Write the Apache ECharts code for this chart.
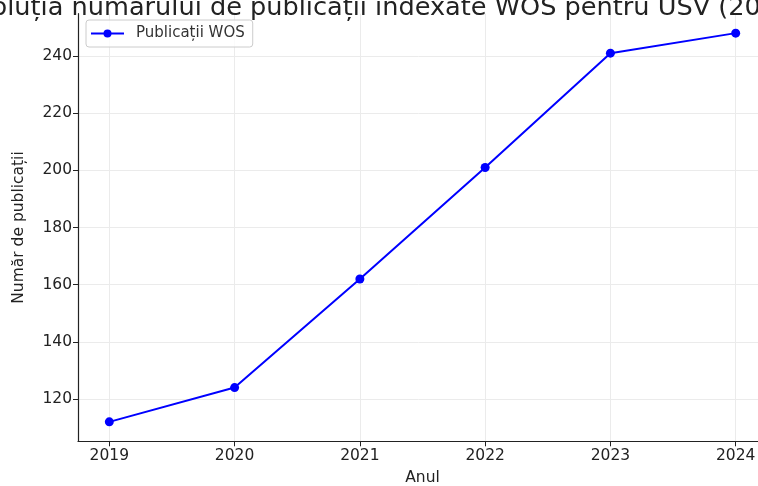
<!DOCTYPE html>
<html>
<head>
<meta charset="utf-8">
<script src="https://cdn.jsdelivr.net/npm/echarts@6/dist/echarts.min.js"></script>
<style>
html, body { margin: 0; padding: 0; background: #fff; }
#chart { width: 758px; height: 486px; }
</style>
</head>
<body>
<div id="chart"></div>
<script>
// date
const years = [2019, 2020, 2021, 2022, 2023, 2024];
const publications = [112, 124, 162, 201, 241, 248];
const yTicks = [120, 140, 160, 180, 200, 220, 240];

const font = 'DejaVu Sans';
const chart = echarts.init(document.getElementById('chart'));

const option = {
    animation: false,
    backgroundColor: '#fff',
    textStyle: { fontFamily: font },
    title: {
        text: 'Evoluția numărului de publicații indexate WOS pentru USV (2019-2024)',
        left: 419,
        top: -5,
        textAlign: 'center',
        padding: 0,
        textStyle: { fontFamily: font, fontSize: 25.6, fontWeight: 'normal', color: '#222' }
    },
    legend: {
        left: 86,
        top: 20,
        padding: [6, 8, 6, 4],
        borderColor: '#ccc',
        borderWidth: 1,
        borderRadius: 3,
        backgroundColor: 'rgba(255,255,255,0.8)',
        itemWidth: 33,
        itemHeight: 10,
        textStyle: { fontFamily: font, fontSize: 15, color: '#333', padding: [0, 0, 0, 7] },
        data: ['Publicații WOS']
    },
    grid: {
        left: 78,
        top: 13.7,
        width: 689,
        height: 427.6,
        containLabel: false,
        outerBoundsMode: 'none'
    },
    xAxis: {
        type: 'value',
        min: 2018.75,
        max: 2024.25,
        name: 'Anul',
        nameLocation: 'middle',
        nameGap: 29,
        nameTextStyle: { fontFamily: font, fontSize: 15.5, color: '#222' },
        axisLine: { show: true, lineStyle: { color: '#222', width: 1.2 } },
        axisTick: { show: true, inside: false, length: 5, customValues: years, lineStyle: { color: '#222' } },
        axisLabel: {
            customValues: years,
            fontSize: 15.5,
            color: '#222',
            margin: 7,
            formatter: v => String(v)
        },
        splitLine: { show: true, lineStyle: { color: '#ebebeb', width: 1 } }
    },
    yAxis: {
        type: 'value',
        min: 105.2,
        max: 254.8,
        name: 'Număr de publicații',
        nameLocation: 'middle',
        nameGap: 51,
        nameTextStyle: { fontFamily: font, fontSize: 15.5, color: '#222' },
        axisLine: { show: true, lineStyle: { color: '#222', width: 1.2 } },
        axisTick: { show: true, inside: false, length: 5, customValues: yTicks, lineStyle: { color: '#222' } },
        axisLabel: {
            customValues: yTicks,
            fontSize: 15.5,
            color: '#222',
            margin: 6,
            formatter: v => String(v)
        },
        splitLine: { show: true, lineStyle: { color: '#ebebeb', width: 1 } }
    },
    series: [
        {
            name: 'Publicații WOS',
            type: 'line',
            symbol: 'circle',
            symbolSize: 9,
            color: '#0000ff',
            lineStyle: { width: 2, color: '#0000ff' },
            data: years.map((y, i) => [y, publications[i]])
        }
    ]
};

chart.setOption(option);
</script>
</body>
</html>
